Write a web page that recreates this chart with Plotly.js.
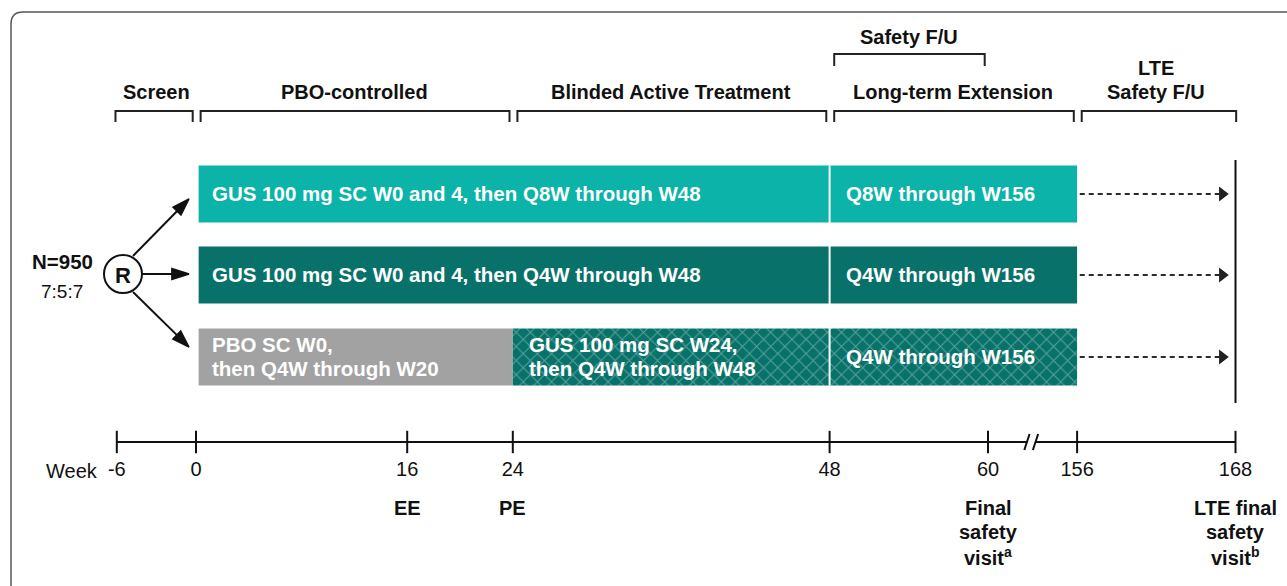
<!DOCTYPE html>
<html><head><meta charset="utf-8">
<script src="https://cdn.plot.ly/plotly-3.0.1.min.js"></script>
<style>html,body{margin:0;padding:0;background:#fff}#chart{width:1287px;height:586px}</style>
</head><body><div id="chart"></div>
<script>
// ---------------- data ----------------
const weekTicks = [-6, 0, 16, 24, 48, 60, 156, 168];
const weekTickLabels = ['-6', '0', '16', '24', '48', '60', '156', '168'];
const milestoneWeeks = [16, 24, 60, 168];
const milestoneLabels = ['EE', 'PE', 'Final<br>safety<br>visit<sup>a</sup>', 'LTE final<br>safety<br>visit<sup>b</sup>'];
const phaseNames = ['Screen', 'PBO-controlled', 'Blinded Active Treatment', 'Long-term Extension', 'LTE<br>Safety F/U'];
const phaseStart = [-6, 0, 24, 48, 156];
const phaseEnd = [0, 24, 48, 156, 168];
const safetyFUName = 'Safety F/U';
const safetyFUStart = 48;
const safetyFUEnd = 60;
const armNames = ['GUS Q8W', 'GUS Q4W', 'PBO to GUS Q4W'];
const segArm = [0, 0, 1, 1, 2, 2, 2];
const segStart = [0, 48, 0, 48, 0, 24, 48];
const segEnd = [48, 156, 48, 156, 24, 48, 156];
const segKind = ['q8w', 'q8w', 'q4w', 'q4w', 'pbo', 'cross', 'cross'];
const segLabel = [
  'GUS 100 mg SC W0 and 4, then Q8W through W48', 'Q8W through W156',
  'GUS 100 mg SC W0 and 4, then Q4W through W48', 'Q4W through W156',
  'PBO SC W0,<br>then Q4W through W20', 'GUS 100 mg SC W24,<br>then Q4W through W48', 'Q4W through W156'
];
const totalN = 950;
const allocation = '7:5:7';
const lteEndWeek = 168;
const extensionEndWeek = 156;

// ---------------- scales / layout helpers ----------------
const W = 1287, H = 586;
const X0PX = 196, PXPERWEEK = 13.2;              // week 0 pixel, pixels per week
const BREAK_FROM = 60, BREAK_TO = 156, BREAK_GAP = 6.75;
function pos(w) { return w <= BREAK_FROM ? w : w - BREAK_TO + BREAK_FROM + BREAK_GAP; }
function px2x(p) { return (p - X0PX) / PXPERWEEK; }
const ROW_Y = [194, 275, 357];
const BAR_H = 57;
const AXIS_Y = 442;
const LINE_H = 24;
const FONT = 'Liberation Sans, Arial, Helvetica, sans-serif';
const INK = '#111111';
const kindStyle = {
  q8w: { color: '#0cb3a9' },
  q4w: { color: '#08726a' },
  pbo: { color: '#a2a2a2' },
  cross: { color: '#08726a', pattern: { shape: 'x', fillmode: 'overlay', fgcolor: '#a9d6d0', size: 10, solidity: 0.18 } }
};

const traces = [];
// bars
Object.keys(kindStyle).forEach(k => {
  const idx = segKind.map((v, i) => v === k ? i : -1).filter(i => i >= 0);
  const st = kindStyle[k];
  const marker = { color: st.color, line: { width: 0 } };
  if (st.pattern) marker.pattern = st.pattern;
  traces.push({
    type: 'bar', orientation: 'h',
    y: idx.map(i => ROW_Y[segArm[i]]),
    base: idx.map(i => pos(segStart[i]) + (segStart[i] === 0 ? 0.2 : 0)),
    x: idx.map(i => pos(segEnd[i]) - pos(segStart[i]) - (segStart[i] === 0 ? 0.2 : 0)),
    width: BAR_H, marker: marker, hoverinfo: 'skip', name: k
  });
});
// timeline axis with break
const brk1 = pos(BREAK_FROM) + 2.95, brk2 = pos(BREAK_FROM) + 3.6;
traces.push({
  type: 'scatter', mode: 'lines',
  x: [pos(weekTicks[0]), brk1, null, brk2, pos(weekTicks[weekTicks.length - 1])],
  y: [AXIS_Y, AXIS_Y, null, AXIS_Y, AXIS_Y],
  line: { color: INK, width: 2 }, hoverinfo: 'skip'
});
// break slashes
traces.push({
  type: 'scatter', mode: 'lines',
  x: [brk1 - 0.2, brk1 + 0.2, null, brk2 - 0.2, brk2 + 0.2],
  y: [AXIS_Y + 8, AXIS_Y - 8, null, AXIS_Y + 8, AXIS_Y - 8],
  line: { color: INK, width: 2 }, hoverinfo: 'skip'
});
// ticks
traces.push({
  type: 'scatter', mode: 'markers',
  x: weekTicks.map(pos), y: weekTicks.map(() => AXIS_Y),
  marker: { symbol: 'line-ns-open', size: 16, color: INK, line: { color: INK, width: 2 } }, hoverinfo: 'skip'
});
// tick labels
traces.push({
  type: 'scatter', mode: 'text',
  x: weekTicks.map(pos), y: weekTicks.map(() => 471),
  text: weekTickLabels, textposition: 'middle center',
  textfont: { family: FONT, size: 20, color: INK }, hoverinfo: 'skip'
});
// dashed continuation arrows
const dx = [], dy = [];
ROW_Y.forEach(y => { dx.push(pos(extensionEndWeek) + 0.2, pos(lteEndWeek) - 1.0, null); dy.push(y, y, null); });
traces.push({ type: 'scatter', mode: 'lines', x: dx, y: dy, line: { color: '#2a2a2a', width: 2, dash: '5px,4px' }, hoverinfo: 'skip' });
traces.push({
  type: 'scatter', mode: 'markers',
  x: ROW_Y.map(() => pos(lteEndWeek) - 1.0), y: ROW_Y,
  marker: { symbol: 'triangle-right', size: 13, color: '#222' }, hoverinfo: 'skip'
});
// randomisation arrows (circle edge -> arm rows)
[[133, 256, 189, 199], [142, 274, 189, 274], [133, 292, 189, 347]].forEach(a => {
  traces.push({
    type: 'scatter', mode: 'lines+markers',
    x: [px2x(a[0]), px2x(a[2])], y: [a[1], a[3]],
    line: { color: INK, width: 2 },
    marker: { symbol: 'arrow', size: [0, 18], angleref: 'previous', color: INK, opacity: 1, line: { color: INK, width: 1.5 } },
    hoverinfo: 'skip'
  });
});

const shapes = [];
// frame
const fx = v => v / W, fy = v => 1 - v / H;
shapes.push({
  type: 'path', xref: 'paper', yref: 'paper',
  path: `M ${fx(11)},${fy(600)} L ${fx(11)},${fy(24)} Q ${fx(11)},${fy(12)} ${fx(23)},${fy(12)} L ${fx(1300)},${fy(12)}`,
  line: { color: '#555', width: 1.5 }
});
// phase brackets
const firstW = phaseStart[0], lastW = phaseEnd[phaseEnd.length - 1];
function bracket(s, e, top, bottom) {
  const x0 = pos(s) + (s === firstW ? -0.1 : 0.35);
  const x1 = pos(e) - (e === lastW ? -0.05 : 0.25);
  return { type: 'path', xref: 'x', yref: 'y', path: `M ${x0},${bottom} L ${x0},${top} L ${x1},${top} L ${x1},${bottom}`, line: { color: '#222', width: 2 } };
}
phaseStart.forEach((s, i) => shapes.push(bracket(s, phaseEnd[i], 111, 122)));
shapes.push(bracket(safetyFUStart, safetyFUEnd, 54, 66));
// white separator at week 48 across bars
shapes.push({ type: 'line', xref: 'x', yref: 'y', x0: pos(48), x1: pos(48), y0: ROW_Y[0] - BAR_H / 2, y1: ROW_Y[2] + BAR_H / 2, line: { color: '#ffffff', width: 2 } });
// LTE end vertical line
shapes.push({ type: 'line', xref: 'x', yref: 'y', x0: pos(lteEndWeek), x1: pos(lteEndWeek), y0: 160, y1: 403, line: { color: INK, width: 2 } });
// randomisation circle
shapes.push({ type: 'circle', xref: 'x', yref: 'y', x0: px2x(104), x1: px2x(142), y0: 255, y1: 293, line: { color: INK, width: 2 }, fillcolor: '#fff' });

const annotations = [];
function txt(x, y, text, size, opts) {
  return Object.assign({
    x: x, y: y, xref: 'x', yref: 'y', text: text, showarrow: false,
    font: { family: FONT, size: size, color: INK }, xanchor: 'center', yanchor: 'middle'
  }, opts || {});
}
// multi-line text: one annotation per line, fixed line spacing
function lines(x, yFirst, text, size, bold, opts) {
  text.split('<br>').forEach((ln, k) => {
    annotations.push(txt(x, yFirst + k * LINE_H, bold ? '<b>' + ln + '</b>' : ln, size, opts));
  });
}
// phase headers (last line centred on y = 92)
phaseNames.forEach((n, i) => {
  const cx = (pos(phaseStart[i]) + pos(phaseEnd[i])) / 2;
  const nl = n.split('<br>').length;
  lines(cx, 92 - (nl - 1) * LINE_H, n, 20, true);
});
lines((pos(safetyFUStart) + pos(safetyFUEnd)) / 2, 37, safetyFUName, 20, true);
// bar labels
segLabel.forEach((t, i) => {
  const nl = t.split('<br>').length;
  lines(pos(segStart[i]), ROW_Y[segArm[i]] - 1 - (nl - 1) * LINE_H / 2, t, 20.5, true,
    { xanchor: 'left', align: 'left', xshift: 14, font: { family: FONT, size: 20.5, color: '#ffffff' } });
});
// milestone labels
milestoneWeeks.forEach((w, i) => lines(pos(w), 508, milestoneLabels[i], 20, true));
annotations.push(txt(px2x(100), 471, 'Week', 20, { xanchor: 'right' }));
// N and ratio
annotations.push(txt(px2x(62), 261, '<b>N=' + totalN + '</b>', 20.5));
annotations.push(txt(px2x(62), 291, allocation, 19));
annotations.push(txt(px2x(123), 275, '<b>R</b>', 22));

const layout = {
  width: W, height: H, margin: { l: 0, r: 0, t: 0, b: 0, pad: 0 },
  paper_bgcolor: '#ffffff', plot_bgcolor: '#ffffff', showlegend: false, barmode: 'overlay',
  xaxis: { range: [px2x(0), px2x(W)], visible: false, fixedrange: true },
  yaxis: { range: [H, 0], visible: false, fixedrange: true },
  shapes: shapes, annotations: annotations, font: { family: FONT }
};
Plotly.newPlot('chart', traces, layout, { displayModeBar: false, staticPlot: true });
</script></body></html>
